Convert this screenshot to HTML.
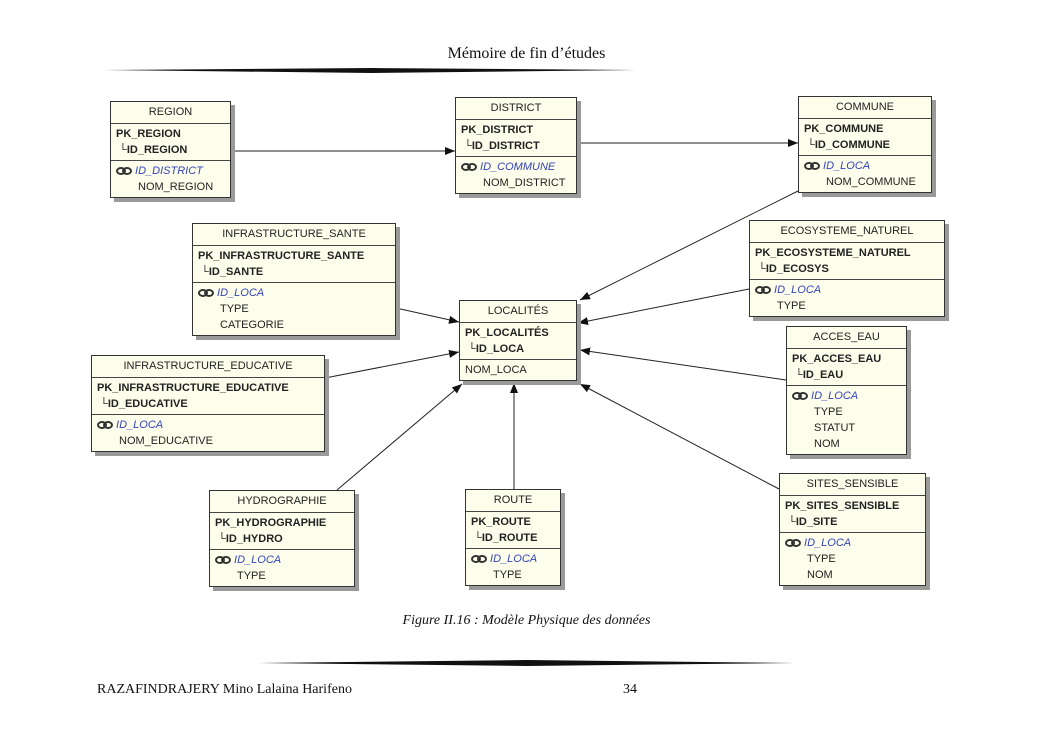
<!DOCTYPE html>
<html><head><meta charset="utf-8"><style>
body{margin:0;width:1053px;height:745px;background:#fff;position:relative;overflow:hidden;font-family:"Liberation Sans",sans-serif}
.b{position:absolute;background:#fdfdeb;border:1px solid #333;box-shadow:4px 4px 0 #9a9a9a;font-size:11px;color:#222;box-sizing:border-box}
.h{height:21px;line-height:21px;text-align:center;border-bottom:1px solid #444;font-size:11px}
.pk{padding:2px 5px 2px 5px;border-bottom:1px solid #444;font-weight:bold;line-height:16px}
.at{padding:2px 5px;line-height:16px}
.fk{color:#3344bb;font-style:italic}
.ic{display:inline-block;width:16px;vertical-align:middle}
.in{padding-left:22px}
.t{position:absolute;font-family:"Liberation Serif",serif;color:#111}
</style></head><body>
<div class="t" style="left:0;width:1053px;text-align:center;top:45px;font-size:16px">Mémoire de fin d’études</div>
<svg width="1053" height="745" style="position:absolute;left:0;top:0">
<polygon points="103,70 372,68 640,70 372,73" fill="#111"/>
<polygon points="258,663 527,660 795,663 527,666" fill="#111"/>
<defs><marker id="a" markerWidth="10" markerHeight="8" refX="10" refY="4" orient="auto" markerUnits="userSpaceOnUse"><path d="M0,0 L10,4 L0,8z" fill="#111"/></marker>
<symbol id="lk" viewBox="0 0 16 8"><ellipse cx="5" cy="4" rx="4" ry="3" fill="none" stroke="#333" stroke-width="2"/><ellipse cx="11" cy="4" rx="4" ry="3" fill="none" stroke="#333" stroke-width="2"/></symbol></defs>
<g stroke="#222" stroke-width="1" marker-end="url(#a)">
<line x1="231" y1="151" x2="455" y2="151"/>
<line x1="577" y1="143" x2="798" y2="143"/>
<line x1="814" y1="183" x2="580" y2="300"/>
<line x1="396" y1="308" x2="459" y2="322"/>
<line x1="749" y1="289" x2="578" y2="323"/>
<line x1="325" y1="378" x2="459" y2="352"/>
<line x1="786" y1="380" x2="580" y2="350"/>
<line x1="337" y1="490" x2="462" y2="384"/>
<line x1="514" y1="489" x2="514" y2="383"/>
<line x1="779" y1="489" x2="580" y2="384"/>
</g></svg>

<div class="b" style="left:110px;top:101px;width:121px"><div class="h">REGION</div><div class="pk">PK_REGION<br>&nbsp;└ID_REGION</div><div class="at"><span class="fk"><svg class="ic" width="14" height="8"><use href="#lk"/></svg> ID_DISTRICT</span><div class="in">NOM_REGION</div></div></div>
<div class="b" style="left:455px;top:97px;width:122px"><div class="h">DISTRICT</div><div class="pk">PK_DISTRICT<br>&nbsp;└ID_DISTRICT</div><div class="at"><span class="fk"><svg class="ic" width="14" height="8"><use href="#lk"/></svg> ID_COMMUNE</span><div class="in">NOM_DISTRICT</div></div></div>
<div class="b" style="left:798px;top:96px;width:134px"><div class="h">COMMUNE</div><div class="pk">PK_COMMUNE<br>&nbsp;└ID_COMMUNE</div><div class="at"><span class="fk"><svg class="ic" width="14" height="8"><use href="#lk"/></svg> ID_LOCA</span><div class="in">NOM_COMMUNE</div></div></div>
<div class="b" style="left:192px;top:223px;width:204px"><div class="h">INFRASTRUCTURE_SANTE</div><div class="pk">PK_INFRASTRUCTURE_SANTE<br>&nbsp;└ID_SANTE</div><div class="at"><span class="fk"><svg class="ic" width="14" height="8"><use href="#lk"/></svg> ID_LOCA</span><div class="in">TYPE</div><div class="in">CATEGORIE</div></div></div>
<div class="b" style="left:749px;top:220px;width:196px"><div class="h">ECOSYSTEME_NATUREL</div><div class="pk">PK_ECOSYSTEME_NATUREL<br>&nbsp;└ID_ECOSYS</div><div class="at"><span class="fk"><svg class="ic" width="14" height="8"><use href="#lk"/></svg> ID_LOCA</span><div class="in">TYPE</div></div></div>
<div class="b" style="left:459px;top:300px;width:118px"><div class="h">LOCALITÉS</div><div class="pk">PK_LOCALITÉS<br>&nbsp;└ID_LOCA</div><div class="at">NOM_LOCA</div></div>
<div class="b" style="left:91px;top:355px;width:234px"><div class="h">INFRASTRUCTURE_EDUCATIVE</div><div class="pk">PK_INFRASTRUCTURE_EDUCATIVE<br>&nbsp;└ID_EDUCATIVE</div><div class="at"><span class="fk"><svg class="ic" width="14" height="8"><use href="#lk"/></svg> ID_LOCA</span><div class="in">NOM_EDUCATIVE</div></div></div>
<div class="b" style="left:786px;top:326px;width:121px"><div class="h">ACCES_EAU</div><div class="pk">PK_ACCES_EAU<br>&nbsp;└ID_EAU</div><div class="at"><span class="fk"><svg class="ic" width="14" height="8"><use href="#lk"/></svg> ID_LOCA</span><div class="in">TYPE</div><div class="in">STATUT</div><div class="in">NOM</div></div></div>
<div class="b" style="left:209px;top:490px;width:146px"><div class="h">HYDROGRAPHIE</div><div class="pk">PK_HYDROGRAPHIE<br>&nbsp;└ID_HYDRO</div><div class="at"><span class="fk"><svg class="ic" width="14" height="8"><use href="#lk"/></svg> ID_LOCA</span><div class="in">TYPE</div></div></div>
<div class="b" style="left:465px;top:489px;width:96px"><div class="h">ROUTE</div><div class="pk">PK_ROUTE<br>&nbsp;└ID_ROUTE</div><div class="at"><span class="fk"><svg class="ic" width="14" height="8"><use href="#lk"/></svg> ID_LOCA</span><div class="in">TYPE</div></div></div>
<div class="b" style="left:779px;top:473px;width:147px"><div class="h">SITES_SENSIBLE</div><div class="pk">PK_SITES_SENSIBLE<br>&nbsp;└ID_SITE</div><div class="at"><span class="fk"><svg class="ic" width="14" height="8"><use href="#lk"/></svg> ID_LOCA</span><div class="in">TYPE</div><div class="in">NOM</div></div></div>

<div class="t" style="left:0;width:1053px;text-align:center;top:613px;font-size:14px;font-style:italic">Figure II.16 : Modèle Physique des données</div>
<div class="t" style="left:97px;top:682px;font-size:14px">RAZAFINDRAJERY Mino Lalaina Harifeno</div>
<div class="t" style="left:623px;top:682px;font-size:14px">34</div>
</body></html>
